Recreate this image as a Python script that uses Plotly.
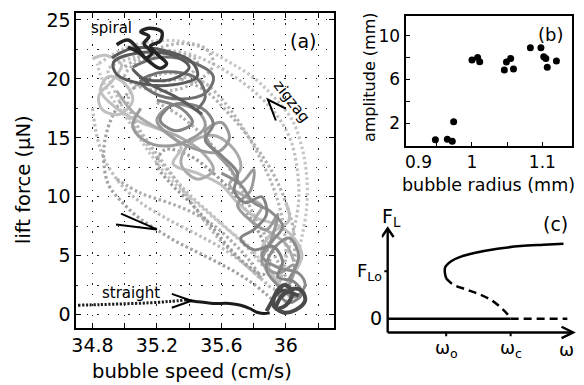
import plotly.graph_objects as go

# ---------------- data: panel (a) trajectories (bubble speed cm/s, lift force uN)
DOT1_S = [34.84, 35.00, 35.18, 35.34, 35.49, 35.64, 35.80, 35.93, 36.04, 36.10, 36.13, 36.13, 36.10, 36.06, 36.03, 36.01, 35.95, 35.87, 35.77, 35.64, 35.52, 35.40, 35.27, 35.15, 35.03, 34.92, 34.85, 34.83]
DOT1_F = [21.3, 22.6, 23.2, 23.2, 22.6, 21.5, 20.1, 18.4, 16.5, 14.2, 11.7, 9.2, 6.6, 4.4, 2.4, 1.2, 2.5, 4.1, 5.8, 7.2, 8.6, 10.0, 11.7, 13.8, 16.3, 18.4, 20.3, 21.3]
DOT2_S = [34.90, 35.05, 35.22, 35.38, 35.53, 35.68, 35.83, 35.95, 36.03, 36.07, 36.08, 36.05, 36.00, 35.95, 35.88, 35.78, 35.66, 35.53, 35.40, 35.28, 35.16, 35.05, 34.95, 34.90]
DOT2_F = [20.8, 21.8, 22.4, 22.2, 21.4, 20.2, 18.6, 16.8, 14.8, 12.4, 9.8, 7.2, 4.8, 3.0, 3.8, 5.4, 7.0, 8.6, 10.2, 12.0, 14.0, 16.2, 18.6, 20.8]
DOT3_S = [35.30, 35.48, 35.62, 35.75, 35.85, 35.93, 35.98, 36.00, 35.98, 35.93, 35.85, 35.72, 35.58, 35.45, 35.33, 35.20, 35.08, 35.02, 35.10, 35.30]
DOT3_F = [20.5, 19.8, 18.0, 15.5, 13.0, 10.5, 8.0, 5.5, 3.5, 2.2, 3.0, 4.6, 6.5, 8.8, 11.2, 13.6, 16.0, 18.2, 19.8, 20.5]
DOT4_S = [35.15, 35.02, 34.93, 34.88, 34.87, 34.90, 34.98, 35.08, 35.20, 35.32, 35.45, 35.58, 35.70, 35.80, 35.88, 35.94]
DOT4_F = [20.0, 18.8, 17.0, 15.0, 13.0, 11.0, 9.6, 8.3, 7.2, 6.2, 5.3, 4.4, 3.5, 2.6, 1.7, 1.0]
DOT5_S = [35.40, 35.55, 35.68, 35.78, 35.86, 35.90, 35.86, 35.76, 35.64, 35.52, 35.40, 35.28, 35.20, 35.25, 35.40]
DOT5_F = [13.5, 12.0, 10.2, 8.2, 6.2, 4.5, 3.4, 4.2, 5.8, 7.8, 9.6, 11.2, 12.8, 14.0, 13.5]
DOT6_S = [35.00, 35.15, 35.35, 35.50, 35.55, 35.45, 35.28, 35.10, 35.00, 35.10, 35.30, 35.45, 35.40, 35.22]
DOT6_F = [21.0, 22.3, 23.0, 22.6, 21.2, 19.8, 19.0, 19.3, 20.2, 21.6, 22.2, 21.5, 20.3, 19.8]
DOT7_S = [34.95, 35.10, 35.25, 35.40, 35.55, 35.68, 35.78, 35.85]
DOT7_F = [11.5, 10.3, 9.6, 8.8, 7.6, 6.0, 4.5, 3.0]
DOT8_S = [34.80, 34.83, 34.88, 34.98, 35.10, 35.28, 35.45, 35.62, 35.75, 35.85]
DOT8_F = [17.5, 15.0, 13.0, 11.0, 9.5, 8.0, 6.8, 5.5, 4.2, 3.0]
DOT9_S = [35.20, 35.35, 35.50, 35.62, 35.72, 35.80, 35.88, 35.95, 36.02, 36.05, 36.05, 36.00, 35.92, 35.80, 35.65, 35.50, 35.35]
DOT9_F = [18.0, 16.8, 15.0, 13.0, 10.8, 8.5, 6.5, 4.5, 3.0, 4.8, 7.0, 9.5, 12.0, 14.5, 17.0, 19.0, 20.0]

SOL1_S = [34.80, 34.88, 34.98, 34.92, 34.84, 34.86, 34.97, 35.05, 35.00, 34.90, 34.85, 34.95, 35.10, 35.25, 35.35, 35.30, 35.45, 35.60, 35.70, 35.82, 35.95, 36.05, 36.10, 36.05, 35.98, 35.90, 35.85, 35.92, 36.02, 36.00]
SOL1_F = [21.7, 22.0, 21.2, 19.8, 18.6, 17.4, 17.0, 18.2, 19.6, 20.2, 19.0, 17.5, 16.3, 15.5, 14.2, 12.8, 12.0, 11.0, 9.5, 8.2, 7.6, 6.5, 5.0, 3.5, 2.5, 3.8, 5.5, 7.0, 8.0, 9.5]
SOL2_S = [35.10, 35.05, 35.12, 35.25, 35.40, 35.50, 35.45, 35.30, 35.20, 35.28, 35.45, 35.58, 35.65, 35.60, 35.50, 35.55, 35.65, 35.72, 35.80, 35.78, 35.70, 35.78, 35.88, 35.95, 35.90, 35.85, 35.95, 36.05, 36.02, 35.95]
SOL2_F = [17.5, 16.0, 14.8, 14.3, 14.8, 16.0, 17.3, 17.8, 16.5, 15.2, 14.0, 13.8, 15.0, 16.3, 15.5, 14.0, 12.5, 11.2, 12.3, 10.5, 9.3, 8.0, 7.2, 8.5, 6.0, 4.5, 3.5, 4.2, 2.5, 1.5]
SOL3_S = [35.20, 35.35, 35.42, 35.32, 35.22, 35.30, 35.48, 35.55, 35.50, 35.60, 35.70, 35.68, 35.75, 35.85, 35.88, 35.80, 35.72, 35.80, 35.92, 35.98, 35.95, 36.05, 36.10, 36.02, 35.95]
SOL3_F = [18.2, 17.5, 16.3, 15.6, 16.5, 17.8, 17.5, 16.2, 14.8, 13.5, 12.0, 10.5, 9.5, 10.0, 8.5, 7.2, 6.5, 5.5, 5.8, 4.5, 3.2, 2.8, 1.8, 1.0, 1.8]
SOL4_S = [34.92, 35.05, 35.25, 35.42, 35.45, 35.30, 35.10, 34.95, 34.93, 35.08, 35.30, 35.40, 35.30, 35.12, 35.05, 35.15, 35.30, 35.42, 35.48]
SOL4_F = [21.8, 22.6, 22.4, 21.4, 20.2, 19.5, 19.6, 20.4, 21.4, 22.2, 22.0, 21.0, 20.0, 20.0, 20.8, 19.6, 18.6, 17.6, 17.0]
SOL5_S = [35.60, 35.72, 35.80, 35.90, 35.98, 35.92, 35.85, 35.95, 36.08, 36.12, 36.05, 35.95, 35.88, 35.92, 36.02, 36.08, 36.02]
SOL5_F = [12.0, 11.0, 9.5, 8.8, 7.5, 6.3, 5.0, 4.0, 3.5, 2.5, 1.5, 2.5, 3.8, 5.5, 6.5, 5.0, 3.0]
SOL6_S = [34.95, 35.05, 35.18, 35.35, 35.48, 35.55, 35.45, 35.35, 35.40, 35.55, 35.68, 35.72, 35.65, 35.75, 35.85, 35.80, 35.90, 36.00, 36.05]
SOL6_F = [19.0, 17.2, 16.0, 15.0, 13.8, 12.3, 11.5, 12.8, 14.5, 15.2, 14.0, 12.4, 11.0, 10.0, 9.2, 7.8, 7.0, 6.0, 4.5]
SOL7_S = [35.05, 35.20, 35.40, 35.55, 35.50, 35.35, 35.18, 35.10, 35.25, 35.45, 35.50, 35.45]
SOL7_F = [21.0, 21.8, 21.5, 20.2, 18.8, 18.3, 18.8, 19.8, 20.6, 20.0, 18.5, 17.4]
SPIRAL_S = [34.95, 35.02, 35.08, 35.13, 35.17, 35.12, 35.15, 35.10, 35.15, 35.23, 35.22, 35.16, 35.21, 35.26, 35.22, 35.15, 35.08, 35.02]
SPIRAL_F = [22.9, 23.3, 22.6, 21.8, 22.2, 23.0, 23.6, 24.0, 24.3, 24.0, 23.2, 22.8, 22.0, 21.3, 20.9, 21.5, 22.3, 22.7]
STRAIGHT_DOT_S = [34.71, 34.85, 35.00, 35.15, 35.28, 35.38]
STRAIGHT_DOT_F = [0.80, 0.85, 0.92, 1.00, 1.12, 1.25]
STRAIGHT_SOL_S = [35.38, 35.45, 35.55, 35.65, 35.72, 35.78, 35.82, 35.86, 35.90]
STRAIGHT_SOL_F = [1.25, 1.10, 0.95, 0.95, 0.80, 0.50, 0.20, 0.10, 0.15]
CLUSTER_S = [35.88, 35.92, 35.95, 36.00, 36.04, 36.00, 35.94, 35.97, 36.05, 36.10, 36.12, 36.06, 35.98, 35.92, 35.96, 36.08]
CLUSTER_F = [0.3, 1.3, 2.1, 2.5, 1.8, 0.8, 0.5, 1.5, 2.2, 2.0, 1.2, 0.4, 0.2, 0.9, 2.0, 1.6]

A_XTICKS = [34.8, 35.2, 35.6, 36.0]
A_XTEXT = ["34.8", "35.2", "35.6", "36"]
A_YTICKS = [0, 5, 10, 15, 20, 25]
A_YTEXT = ["0", "5", "10", "15", "20", "25"]

# ---------------- data: panel (b)
B_RADIUS = [0.948, 0.965, 0.972, 0.974, 1.000, 1.008, 1.011, 1.046, 1.049, 1.055, 1.059, 1.083, 1.098, 1.102, 1.105, 1.107, 1.120]
B_AMPL = [0.48, 0.53, 0.35, 2.13, 7.76, 8.00, 7.60, 6.86, 7.58, 7.91, 6.95, 8.88, 8.88, 8.07, 7.91, 7.10, 7.67]
B_XTICKS = [1.0, 1.1]
B_XTEXT = ["1", "1.1"]
B_XTICK_EXTRA = ("0.9", 0.924)
B_YTICKS = [2, 6, 10]
B_YTEXT = ["2", "6", "10"]

# ---------------- data: panel (c) schematic bifurcation (omega, F_L)
C_UP_W = [1.00, 0.98, 0.985, 1.077, 1.23, 1.436, 1.795, 2.154, 2.51, 2.82]
C_UP_F = [0.85, 0.965, 1.083, 1.208, 1.306, 1.382, 1.472, 1.528, 1.556, 1.577]
C_LOW_W = [1.00, 1.015, 1.103, 1.333, 1.538, 1.718, 1.846, 1.949, 2.0]
C_LOW_F = [0.85, 0.826, 0.722, 0.604, 0.5, 0.375, 0.236, 0.097, 0.0]
C_BASE_SOLID_W = [0.092, 2.0]
C_BASE_DASH_W = [2.0, 2.88]
C_XLABELS = ["ω<sub>o</sub>", "ω<sub>c</sub>", "ω"]

W, H = 584, 385
def px(x):
    return x / W
def py(y):
    return 1 - y / H

FONT = "DejaVu Sans"
fig = go.Figure()

def add_a(s, f, color, width, dash=None):
    line = dict(color=color, width=width, shape="spline", smoothing=1.0)
    if dash:
        line["dash"] = dash
    fig.add_trace(go.Scatter(x=s, y=f, mode="lines", line=line, xaxis="x", yaxis="y",
                             hoverinfo="skip", showlegend=False))

DOTS = "2.6px,2.6px"
add_a(DOT1_S, DOT1_F, "#c6c6c6", 3.2, DOTS)
add_a(DOT2_S, DOT2_F, "#c0c0c0", 3.2, DOTS)
add_a(DOT3_S, DOT3_F, "#b6b6b6", 3.2, DOTS)
add_a(DOT8_S, DOT8_F, "#bcbcbc", 3.2, DOTS)
add_a(DOT9_S, DOT9_F, "#b0b0b0", 3.2, DOTS)
add_a(DOT6_S, DOT6_F, "#b4b4b4", 3.2, DOTS)
add_a(DOT7_S, DOT7_F, "#acacac", 3.2, DOTS)
add_a(DOT4_S, DOT4_F, "#a2a2a2", 3.2, DOTS)
add_a(DOT5_S, DOT5_F, "#9c9c9c", 3.2, DOTS)
add_a(SOL1_S, SOL1_F, "#c0c0c0", 3)
add_a(SOL6_S, SOL6_F, "#ababab", 3)
add_a(SOL2_S, SOL2_F, "#9a9a9a", 3)
add_a(SOL5_S, SOL5_F, "#8c8c8c", 3)
add_a(SOL3_S, SOL3_F, "#838383", 3)
add_a(SOL7_S, SOL7_F, "#707070", 3)
add_a(SOL4_S, SOL4_F, "#5a5a5a", 3)
add_a(CLUSTER_S, CLUSTER_F, "#4a4a4a", 4)
add_a(SPIRAL_S, SPIRAL_F, "#242424", 3.5)
add_a(STRAIGHT_DOT_S, STRAIGHT_DOT_F, "#1e1e1e", 3, "2.2px,1.6px")
add_a(STRAIGHT_SOL_S, STRAIGHT_SOL_F, "#1a1a1a", 3)

# panel (b)
fig.add_trace(go.Scatter(x=B_RADIUS, y=B_AMPL, mode="markers", xaxis="x2", yaxis="y2",
                         marker=dict(color="black", size=7), hoverinfo="skip", showlegend=False))

# panel (c)
fig.add_trace(go.Scatter(x=C_UP_W, y=C_UP_F, mode="lines", xaxis="x3", yaxis="y3",
                         line=dict(color="black", width=2.5, shape="spline"), hoverinfo="skip", showlegend=False))
fig.add_trace(go.Scatter(x=C_LOW_W, y=C_LOW_F, mode="lines", xaxis="x3", yaxis="y3",
                         line=dict(color="black", width=2.5, shape="spline", dash="8px,5px"), hoverinfo="skip", showlegend=False))
fig.add_trace(go.Scatter(x=C_BASE_SOLID_W, y=[0, 0], mode="lines", xaxis="x3", yaxis="y3",
                         line=dict(color="black", width=2.5), hoverinfo="skip", showlegend=False))
fig.add_trace(go.Scatter(x=C_BASE_DASH_W, y=[0, 0], mode="lines", xaxis="x3", yaxis="y3",
                         line=dict(color="black", width=2.5, dash="8px,5px"), hoverinfo="skip", showlegend=False))

tickfont_a = dict(family=FONT, size=19, color="black")
tickfont_b = dict(family=FONT, size=17, color="black")
GRID = dict(showgrid=True, gridcolor="#222", gridwidth=1.1, griddash="1.4px,9px")

fig.update_layout(
    width=W, height=H, margin=dict(l=0, r=0, t=0, b=0),
    paper_bgcolor="white", plot_bgcolor="white", showlegend=False,
    xaxis=dict(domain=[px(72), px(332)], range=[34.70, 36.30], tickmode="array",
               tickvals=A_XTICKS, ticktext=A_XTEXT, ticks="inside", ticklen=5, tickwidth=1.2,
               tickcolor="black", showline=True, linecolor="black", linewidth=2, mirror="ticks",
               tickfont=tickfont_a, zeroline=False,
               minor=dict(dtick=0.2, tick0=34.8, ticks="inside", ticklen=5, tickwidth=1.2, tickcolor="black", **GRID),
               **GRID),
    yaxis=dict(domain=[py(327), py(9)], range=[-1.1, 25.6], tickmode="array",
               tickvals=A_YTICKS, ticktext=A_YTEXT, ticks="inside", ticklen=5, tickwidth=1.2,
               tickcolor="black", showline=True, linecolor="black", linewidth=2, mirror="ticks",
               tickfont=tickfont_a, zeroline=False,
               minor=dict(dtick=2.5, tick0=0, **GRID),
               **GRID),
    xaxis2=dict(domain=[px(404), px(572)], range=[0.9056, 1.1423], tickmode="array",
                tickvals=B_XTICKS, ticktext=B_XTEXT, ticks="inside", ticklen=4, tickwidth=1.2,
                tickcolor="black", showline=True, linecolor="black", linewidth=2, mirror=True,
                tickfont=tickfont_b, showgrid=False, zeroline=False, anchor="y2",
                minor=dict(dtick=0.05, tick0=0.95, ticks="inside", ticklen=4, tickwidth=1.2, tickcolor="black")),
    yaxis2=dict(domain=[py(143), py(12)], range=[-0.04, 11.8], tickmode="array",
                tickvals=B_YTICKS, ticktext=B_YTEXT, ticks="inside", ticklen=4, tickwidth=1.2,
                tickcolor="black", showline=True, linecolor="black", linewidth=2, mirror=True,
                tickfont=tickfont_b, showgrid=False, zeroline=False, anchor="x2",
                minor=dict(dtick=2, tick0=0, ticks="inside", ticklen=4, tickwidth=1.2, tickcolor="black")),
    xaxis3=dict(domain=[px(380), px(584)], range=[0, 204 / 65], visible=False, anchor="y3"),
    yaxis3=dict(domain=[py(345), py(200)], range=[-0.5625, 2.4583], visible=False, anchor="x3"),
)

ann = []
def text(x, y, t, size, xref="paper", yref="paper", angle=0, xanchor="center", yanchor="middle"):
    ann.append(dict(x=x, y=y, xref=xref, yref=yref, text=t, showarrow=False, textangle=angle,
                    xanchor=xanchor, yanchor=yanchor, font=dict(family=FONT, size=size, color="black")))

# panel (a) texts
text(px(18), py(177), "lift force (μN)", 19.5, angle=-90)
text(px(189), py(371), "bubble speed (cm/s)", 19.5)
text(px(301), py(37), "(a)", 19)
text(px(107), py(24), "spiral", 15)
text(px(127), py(292), "straight", 15)
text(px(289), py(98), "zigzag", 15, angle=52)
# panel (b) texts
text(px(367), py(74), "amplitude (mm)", 16, angle=-90)
text(px(488), py(183), "bubble radius (mm)", 17.5)
text(px(550), py(31), "(b)", 18)
text(B_XTICK_EXTRA[1], py(160), B_XTICK_EXTRA[0], 17, xref="x2")
# panel (c) texts
text(px(555), py(222), "(c)", 19)
text(px(378), py(216), "F<sub>L</sub>", 19, xanchor="left")
text(px(382), py(271), "F<sub>Lo</sub>", 18, xanchor="right")
text(px(382), py(317), "0", 19, xanchor="right")
text(1.0, py(349), C_XLABELS[0], 18, xref="x3")
text(2.0, py(349), C_XLABELS[1], 18, xref="x3")
text(2.87, py(349), C_XLABELS[2], 18, xref="x3")
fig.update_layout(annotations=ann)

# chevrons, axis arrows of panel (c), small ticks
shapes = []
def path(p, xref="x", yref="y", w=2.0):
    shapes.append(dict(type="path", path=p, xref=xref, yref=yref, line=dict(color="black", width=w)))
path("M 35.938,16.47 L 35.889,18.24 L 36.0,17.48")
path("M 34.977,8.57 L 35.2,7.23 L 34.946,7.65")
path("M 35.292,1.76 L 35.415,1.18 L 35.292,0.59")
path("M 0.092,-0.29 L 0.092,1.90", "x3", "y3", 2.4)
path("M 0.0,1.72 L 0.092,1.90 L 0.184,1.72", "x3", "y3", 2.4)
path("M 0.092,-0.29 L 2.97,-0.29", "x3", "y3", 2.4)
path("M 2.79,-0.17 L 2.97,-0.29 L 2.79,-0.41", "x3", "y3", 2.4)
path("M 1.0,-0.29 L 1.0,-0.37", "x3", "y3", 2.0)
path("M 2.0,-0.29 L 2.0,-0.37", "x3", "y3", 2.0)
path("M 0.092,1.0 L 0.04,1.0", "x3", "y3", 2.0)
fig.update_layout(shapes=shapes)

fig.write_html("out.html", config={"displayModeBar": False},
               post_script="document.body.style.margin='0';")
